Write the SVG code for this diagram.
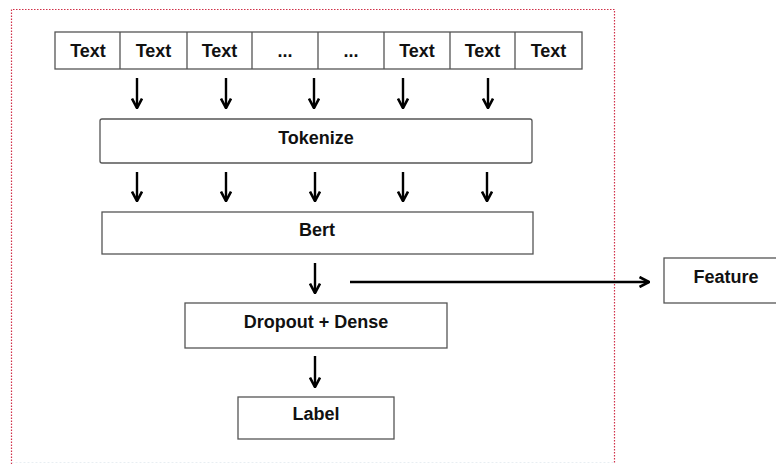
<svg xmlns="http://www.w3.org/2000/svg" width="776" height="464" viewBox="0 0 776 464">
<defs>
<style>
.box{fill:#fff;stroke:#555;stroke-width:1.3}
.t{font-family:"Liberation Sans",Arial,sans-serif;font-weight:bold;font-size:18px;fill:#111;text-anchor:middle}
.c{stroke:#000;stroke-width:2.4;fill:none}
.b{fill:none;stroke:#d03048;stroke-width:1.2;stroke-dasharray:1.5 1.5}
</style>
<marker id="ah" viewBox="0 0 12 12" refX="11" refY="6" markerWidth="12" markerHeight="12" markerUnits="userSpaceOnUse" orient="auto">
<path d="M1.5,1 L11,6 L1.5,11" fill="none" stroke="#000" stroke-width="2.6" stroke-linejoin="miter"/>
</marker>
</defs>
<rect width="776" height="464" fill="#fff"/>
<path class="b" d="M11.5,464V9.5H614.5V464"/>
<path d="M11.5,462.5H614.5" fill="none" stroke="#e8eef2" stroke-width="1" stroke-dasharray="2 2"/>
<g id="input-row">
<rect class="box" x="55" y="32" width="527" height="37"/>
<path d="M120,32V69M187,32V69M252,32V69M318,32V69M384,32V69M450,32V69M515,32V69" stroke="#555" stroke-width="1.3"/>
<text class="t" x="88" y="57">Text</text>
<text class="t" x="153.5" y="57">Text</text>
<text class="t" x="219.5" y="57">Text</text>
<text class="t" x="285" y="57">...</text>
<text class="t" x="351" y="57">...</text>
<text class="t" x="417" y="57">Text</text>
<text class="t" x="482.5" y="57">Text</text>
<text class="t" x="548.5" y="57">Text</text>
</g>
<g id="tokenize">
<rect class="box" x="100" y="119" width="432" height="44" rx="2"/>
<text class="t" x="316" y="144">Tokenize</text>
</g>
<g id="bert">
<rect class="box" x="102" y="212" width="431" height="42"/>
<text class="t" x="317" y="236">Bert</text>
</g>
<g id="dropout-dense">
<rect class="box" x="185" y="303" width="262" height="45"/>
<text class="t" x="316" y="328">Dropout + Dense</text>
</g>
<g id="label">
<rect class="box" x="238" y="397" width="156" height="42"/>
<text class="t" x="316" y="420">Label</text>
</g>
<g id="feature">
<rect class="box" x="664" y="258" width="120" height="45"/>
<text class="t" x="726" y="283">Feature</text>
</g>
<g id="connectors">
<path class="c" marker-end="url(#ah)" d="M137,78V108"/>
<path class="c" marker-end="url(#ah)" d="M226,78V108"/>
<path class="c" marker-end="url(#ah)" d="M314,78V108"/>
<path class="c" marker-end="url(#ah)" d="M403,78V108"/>
<path class="c" marker-end="url(#ah)" d="M488,78V108"/>
<path class="c" marker-end="url(#ah)" d="M137,172V201"/>
<path class="c" marker-end="url(#ah)" d="M226,172V201"/>
<path class="c" marker-end="url(#ah)" d="M315,172V201"/>
<path class="c" marker-end="url(#ah)" d="M403,172V201"/>
<path class="c" marker-end="url(#ah)" d="M487,172V201"/>
<path class="c" marker-end="url(#ah)" d="M315,263V293"/>
<path class="c" marker-end="url(#ah)" d="M350,282H649"/>
<path class="c" marker-end="url(#ah)" d="M315,356V387"/>
</g>
</svg>
